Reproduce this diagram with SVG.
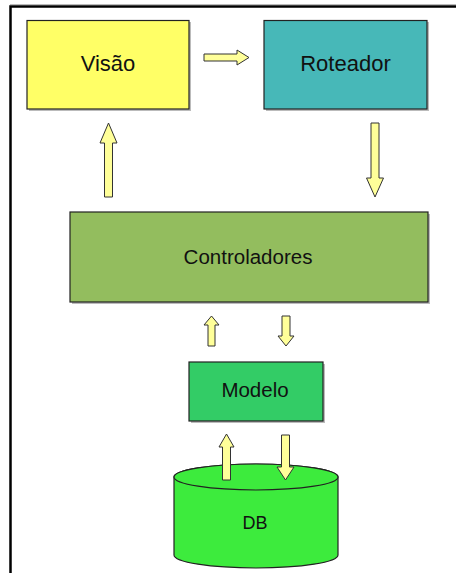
<svg xmlns="http://www.w3.org/2000/svg" width="456" height="573" viewBox="0 0 456 573">
<style>
.box{stroke:#222;stroke-width:1.2}
.shadow{fill:#bbb}
.lbl{font-family:"Liberation Sans",Arial,sans-serif;fill:#111;text-anchor:middle}
.arr{fill:#FFFF99;stroke:#333;stroke-width:1}
</style>
<rect x="0" y="0" width="456" height="573" fill="#fff"/>
<line x1="10" y1="4.5" x2="456" y2="4.5" stroke="#bbb" stroke-width="1"/>
<polyline points="10.5,573 10.5,6.5 456,6.5" fill="none" stroke="#000" stroke-width="2.5"/>
<g id="visao">
<rect class="shadow" x="29" y="22" width="162" height="89"/>
<rect class="box" x="27" y="20.5" width="162" height="88.5" fill="#FFFF66"/>
<text class="lbl" x="108" y="71" font-size="22">Visão</text>
</g>
<g id="roteador">
<rect class="shadow" x="266" y="22" width="163" height="89"/>
<rect class="box" x="264" y="20.5" width="163" height="88.5" fill="#47B8B8"/>
<text class="lbl" x="345.5" y="71" font-size="22">Roteador</text>
</g>
<g id="controladores">
<rect class="shadow" x="72" y="214" width="358" height="90"/>
<rect class="box" x="70" y="212" width="358" height="90" fill="#93BD5E"/>
<text class="lbl" x="248" y="264" font-size="20.5">Controladores</text>
</g>
<g id="modelo">
<rect class="shadow" x="191" y="364" width="134" height="59"/>
<rect class="box" x="189" y="362" width="134" height="59" fill="#33CC66"/>
<text class="lbl" x="255" y="397" font-size="20.5">Modelo</text>
</g>
<g id="db">
<path class="box" d="M174,477 L174,555 A82,13 0 0 0 338,555 L338,477 A82,13 0 0 0 174,477 Z" fill="#3DEB3D"/>
<ellipse class="box" cx="256" cy="477" rx="82" ry="13" fill="#3DEB3D"/>
<text class="lbl" x="255" y="529" font-size="18">DB</text>
</g>
<g id="connectors">
<polygon class="arr" points="204,54 237,54 237,50 249,57.5 237,65 237,61 204,61"/>
<polygon class="arr" points="104.5,197 104.5,143 100,143 108.5,123 117,143 112.5,143 112.5,197"/>
<polygon class="arr" points="371,123 379,123 379,178 383.5,178 375,197 366.5,178 371,178"/>
<polygon class="arr" points="208,346 208,325 204,325 211.5,316 219,325 215,325 215,346"/>
<polygon class="arr" points="282,316 290,316 290,336 294,336 286,346 278,336 282,336"/>
<polygon class="arr" points="222.5,480 222.5,447 219,447 226.5,434 234,447 230.5,447 230.5,480"/>
<polygon class="arr" points="281.5,435 289.5,435 289.5,467 294,467 285.5,480 277,467 281.5,467"/>
</g>
</svg>
